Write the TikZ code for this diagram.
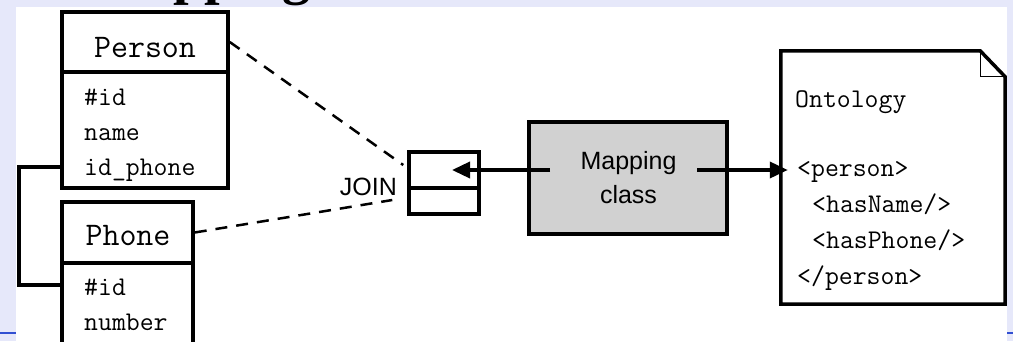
\documentclass[tikz,border=0pt]{standalone}
\usepackage{fontspec}
\setmainfont{Liberation Serif}
\newfontfamily\sansf{Liberation Sans}
\usetikzlibrary{arrows.meta,calc}
\definecolor{bgc}{RGB}{230,232,250}
\definecolor{slideblue}{RGB}{50,80,210}
\begin{document}
\begin{tikzpicture}[x=1pt,y=-1pt,
  box/.style={draw, line width=3.5pt, fill=white, inner sep=0pt},
  ttitle/.style={font=\ttfamily\fontsize{33}{38}\selectfont, inner sep=0pt, anchor=base},
  tattr/.style={font=\ttfamily\fontsize{27}{32}\selectfont, inner sep=0pt, anchor=base west},
  sanslabel/.style={font=\sansf\fontsize{25}{33.5}\selectfont, inner sep=0pt},
  dashedline/.style={line width=2.5pt, dash pattern=on 12pt off 9pt},
  flow/.style={line width=3.5pt, -{Triangle[length=18pt,width=16pt]}},
]
\useasboundingbox (0,0) rectangle (1013,341);
% slide background
\fill[bgc] (0,0) rectangle (1013,341);
\draw[slideblue, line width=2pt] (0,333) -- (1013,333);
\node[font=\bfseries\fontsize{56}{60}\selectfont, inner sep=0pt, anchor=base west] (title) at (92,-7) {Mapping};
\fill[white] (16,7) rectangle (1007,341);

% Person class
\node[box, minimum width=166pt, minimum height=60pt] (ptitle) at (145,42) {};
\node[box, minimum width=166pt, minimum height=116pt] (pattr) at (145,130) {};
\node[ttitle] (ptext) at (145,57) {Person};
\node[tattr] (pid) at (84,105) {\#id};
\node[tattr] (pname) at (84,140) {name};
\node[tattr] (pidph) at (84,175) {id\_phone};

% Phone class
\node[box, minimum width=131pt, minimum height=61pt] (phtitle) at (127.5,232.5) {};
\node[box, minimum width=131pt, minimum height=140pt] (phattr) at (127.5,333) {};
\node[ttitle] (phtext) at (128,245) {Phone};
\node[tattr] (phid) at (84,295) {\#id};
\node[tattr] (phnum) at (84,330) {number};

% link between classes
\coordinate (lk1) at (19,167);
\coordinate (lk2) at (19,285);
\draw[line width=3.5pt] (lk1 -| pattr.west) -- (lk1) -- (lk2) -- (lk2 -| phattr.west);

% JOIN box
\node[box, minimum width=70pt, minimum height=36pt] (jtop) at (444,170) {};
\node[box, minimum width=70pt, minimum height=26pt] (jbot) at (444,201) {};
\node[sanslabel, anchor=base east] (join) at (397,195) {JOIN};

% dashed lines
\draw[dashedline] (ptitle.east) -- ($(jtop.west)+(-4,-5)$);
\draw[dashedline] (phtitle.east) -- ($(jbot.west)+(-15,-1)$);

% Mapping class
\node[draw, line width=3.5pt, fill=black!18, minimum width=198pt, minimum height=112pt] (map) at (628,178) {};
\node[sanslabel, align=center] (mtext) at (628.5,177.5) {Mapping\\class};

% Ontology document
\node[minimum width=224pt, minimum height=253pt, inner sep=0pt] (onto) at (893,177.5) {};
\draw[line width=3.5pt, fill=white] (onto.north west) -- ($(onto.north east)+(-25,0)$) -- ($(onto.north east)+(0,26)$) -- (onto.south east) -- (onto.south west) -- cycle;
\draw[line width=1pt] ($(onto.north east)+(-25,0)$) -- ($(onto.north east)+(-25,26)$) -- ($(onto.north east)+(0,26)$);
\node[tattr] (o1) at (795,107) {Ontology};
\node[tattr] (o2) at (797,176) {<person>};
\node[tattr] (o3) at (812,212) {<hasName/>};
\node[tattr] (o4) at (812,248) {<hasPhone/>};
\node[tattr] (o5) at (797,284) {</person>};

% arrows
\coordinate (ml) at (550,170);
\coordinate (mr) at (697,170);
\coordinate (jtip) at (452,170);
\draw[flow] (ml) -- (jtip);
\draw[flow] (mr) -- ($(mr -| onto.west)+(7,0)$);
\end{tikzpicture}
\end{document}
